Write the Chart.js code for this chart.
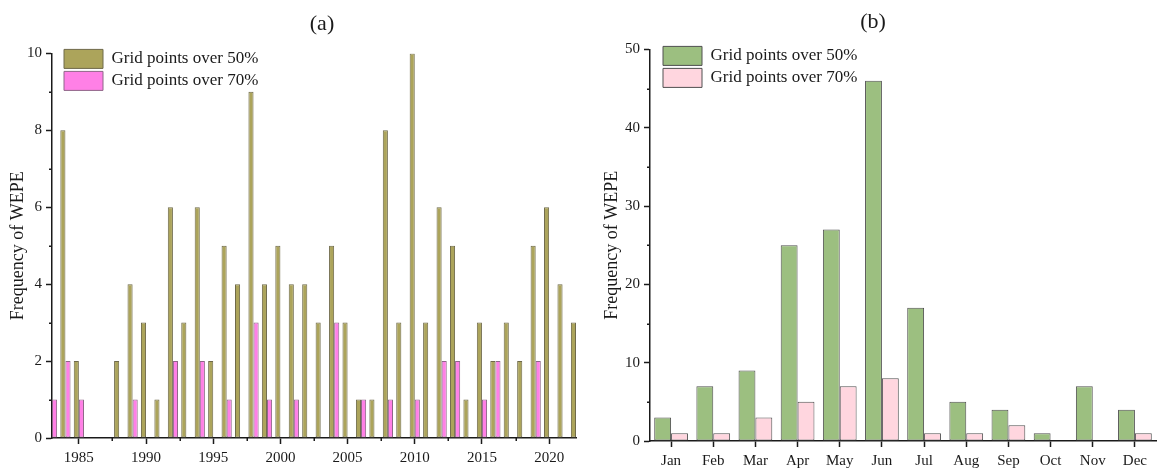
<!DOCTYPE html>
<html>
<head>
<meta charset="utf-8">
<script src="https://cdn.jsdelivr.net/npm/chart.js@4.4.1/dist/chart.umd.min.js"></script>
<style>
  html, body { margin: 0; padding: 0; background: #fff; }
  #wrap { position: relative; width: 1157px; height: 470px; overflow: hidden; }
  #chart-a { position: absolute; left: 0; top: 0; }
  #chart-b { position: absolute; left: 590px; top: 0; }
</style>
</head>
<body>
<div id="wrap">
  <canvas id="chart-a" width="644" height="470"></canvas>
  <canvas id="chart-b" width="567" height="470"></canvas>
</div>
<script>
/* ---------- data: panel (a), yearly ---------- */
const years = [1983, 1984, 1985, 1986, 1987, 1988, 1989, 1990, 1991, 1992,
               1993, 1994, 1995, 1996, 1997, 1998, 1999, 2000, 2001, 2002,
               2003, 2004, 2005, 2006, 2007, 2008, 2009, 2010, 2011, 2012,
               2013, 2014, 2015, 2016, 2017, 2018, 2019, 2020, 2021, 2022];
const yearOver50 = [0, 8, 2, 0, 0, 2, 4, 3, 1, 6,
                    3, 6, 2, 5, 4, 9, 4, 5, 4, 4,
                    3, 5, 3, 1, 1, 8, 3, 10, 3, 6,
                    5, 1, 3, 2, 3, 2, 5, 6, 4, 3];
const yearOver70 = [1, 2, 1, 0, 0, 0, 1, 0, 0, 2,
                    0, 2, 0, 1, 0, 3, 1, 0, 1, 0,
                    0, 3, 0, 1, 0, 1, 0, 1, 0, 2,
                    2, 0, 1, 2, 0, 0, 2, 0, 0, 0];
const yearTickLabels = [1985, 1990, 1995, 2000, 2005, 2010, 2015, 2020];

/* ---------- data: panel (b), monthly ---------- */
const months = ['Jan', 'Feb', 'Mar', 'Apr', 'May', 'Jun', 'Jul', 'Aug', 'Sep', 'Oct', 'Nov', 'Dec'];
const monthOver50 = [3, 7, 9, 25, 27, 46, 17, 5, 4, 1, 7, 4];
const monthOver70 = [1, 1, 3, 5, 7, 8, 1, 1, 2, 0, 0, 1];

const LABEL_50 = 'Grid points over 50%';
const LABEL_70 = 'Grid points over 70%';

/* ---------- style ---------- */
const SERIF = "'Liberation Serif', 'Times New Roman', serif";
const COR = {
  olive: '#aca45b', oliveEdge: '#6f6a4a',
  magenta: '#ff80e6', magentaEdge: '#8e6688',
  green: '#9cbf80', pink: '#ffd6df', edge: '#505050',
  ink: '#1a1a1a',
};

// short minor ticks (Chart.js only has one tick length per axis)
const minorTicks = {
  id: 'minorTicks',
  afterDraw(chart, args, opts) {
    const ctx = chart.ctx;
    ctx.save();
    ctx.strokeStyle = COR.ink;
    ctx.lineWidth = 1.5;
    (opts.x || []).forEach(v => {
      const s = chart.scales.x;
      const px = Math.round(s.getPixelForValue(v)) + 0.25;
      ctx.beginPath(); ctx.moveTo(px, s.top); ctx.lineTo(px, s.top + 3); ctx.stroke();
    });
    (opts.y || []).forEach(v => {
      const s = chart.scales.y;
      const py = Math.round(s.getPixelForValue(v)) + 0.25;
      ctx.beginPath(); ctx.moveTo(s.right, py); ctx.lineTo(s.right - 3, py); ctx.stroke();
    });
    ctx.restore();
  }
};

// legend sits inside the plot, near the top left corner
const legendSpot = {
  id: 'legendSpot',
  afterLayout(chart, args, opts) {
    const lg = chart.legend;
    if (!lg) return;
    lg.left = chart.chartArea.left + opts.dx;
    lg.top = chart.chartArea.top + opts.dy;
  }
};

function legendOpts() {
  return {
    position: 'chartArea',
    align: 'start',
    labels: {
      boxWidth: 39, boxHeight: 19, padding: 3,
      color: COR.ink,
      font: { family: SERIF, size: 17 },
    }
  };
}

function axisBase() {
  return {
    border: { display: true, color: COR.ink, width: 1.5 },
    grid: { drawOnChartArea: false, drawTicks: true, tickLength: 6, tickWidth: 1.5, tickColor: COR.ink, offset: false },
  };
}

/* ---------- (a) ---------- */
const minorYears = [yearTickLabels[0] - 2.5]
  .concat(yearTickLabels.map(y => y + 2.5))
  .filter(y => y > 1983 && y < 2022);

new Chart(document.getElementById('chart-a'), {
  type: 'bar',
  data: {
    datasets: [
      {
        label: LABEL_50,
        data: years.map((y, i) => ({ x: y, y: yearOver50[i] })),
        backgroundColor: COR.olive, borderColor: COR.oliveEdge, borderWidth: 1,
      },
      {
        label: LABEL_70,
        data: years.map((y, i) => ({ x: y, y: yearOver70[i] })),
        backgroundColor: COR.magenta, borderColor: COR.magentaEdge, borderWidth: 1,
      }
    ]
  },
  plugins: [minorTicks, legendSpot],
  options: {
    responsive: false,
    animation: false,
    events: [],
    layout: { padding: { left: 0, right: 0, top: 0, bottom: 0 } },
    datasets: { bar: { categoryPercentage: 0.76, barPercentage: 1.0, borderSkipped: false } },
    plugins: {
      title: {
        display: true, text: '(a)', color: COR.ink,
        font: { family: SERIF, size: 22, weight: 'normal' },
        padding: { top: 11, bottom: 16 },
      },
      legend: legendOpts(),
      tooltip: { enabled: false },
      minorTicks: { x: minorYears, y: [1, 3, 5, 7, 9] },
      legendSpot: { dx: 9, dy: -7 },
    },
    scales: {
      x: {
        ...axisBase(),
        type: 'linear', min: 1983, max: 2022, offset: false,
        afterBuildTicks: s => { s.ticks = yearTickLabels.map(v => ({ value: v })); },
        afterFit: s => { s.height = 32; },
        ticks: {
          autoSkip: false, maxRotation: 0, padding: 5, color: COR.ink,
          font: { family: SERIF, size: 15 },
          callback: v => String(v),
        },
      },
      y: {
        ...axisBase(),
        min: 0, max: 10,
        afterFit: s => { s.width = 52; },
        ticks: { stepSize: 2, padding: 4, color: COR.ink, font: { family: SERIF, size: 15 } },
        title: {
          display: true, text: 'Frequency of WEPE', color: COR.ink,
          font: { family: SERIF, size: 18 }, padding: { top: 7, bottom: 0 },
        },
      },
      // empty right strip so the title centres over the whole panel
      yR: {
        type: 'linear', position: 'right', display: true,
        border: { display: false }, grid: { display: false }, ticks: { display: false },
        afterFit: s => { s.width = 68; },
      },
    }
  }
});

/* ---------- (b) ---------- */
new Chart(document.getElementById('chart-b'), {
  type: 'bar',
  data: {
    labels: months,
    datasets: [
      { label: LABEL_50, data: monthOver50, backgroundColor: COR.green, borderColor: COR.edge, borderWidth: 1 },
      { label: LABEL_70, data: monthOver70, backgroundColor: COR.pink, borderColor: COR.edge, borderWidth: 1 },
    ]
  },
  plugins: [minorTicks, legendSpot],
  options: {
    responsive: false,
    animation: false,
    events: [],
    layout: { padding: { left: 0, right: 1, top: 0, bottom: 0 } },
    datasets: { bar: { categoryPercentage: 0.8, barPercentage: 1.0, borderSkipped: false } },
    plugins: {
      title: {
        display: true, text: '(b)', color: COR.ink,
        font: { family: SERIF, size: 22, weight: 'normal' },
        padding: { top: 9, bottom: 14 },
      },
      legend: legendOpts(),
      tooltip: { enabled: false },
      minorTicks: { y: [5, 15, 25, 35, 45] },
      legendSpot: { dx: 10, dy: -6 },
    },
    scales: {
      x: {
        ...axisBase(),
        type: 'category', offset: true,
        afterFit: s => { s.height = 29; },
        ticks: { autoSkip: false, maxRotation: 0, padding: 5, color: COR.ink, font: { family: SERIF, size: 15 } },
      },
      y: {
        ...axisBase(),
        min: 0, max: 50,
        afterFit: s => { s.width = 60; },
        ticks: { stepSize: 10, padding: 4, color: COR.ink, font: { family: SERIF, size: 15 } },
        title: {
          display: true, text: 'Frequency of WEPE', color: COR.ink,
          font: { family: SERIF, size: 18 }, padding: { top: 11, bottom: 0 },
        },
      },
    }
  }
});
</script>
</body>
</html>
